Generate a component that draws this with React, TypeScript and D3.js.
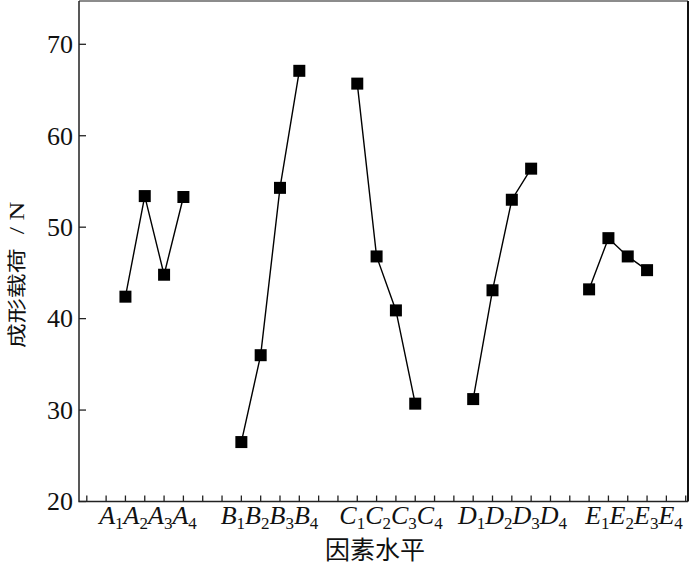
import { useEffect, useRef } from "react";
import * as d3 from "d3";

// factor levels and mean forming load (N)
const factors = ["A", "B", "C", "D", "E"];
const levels = [1, 2, 3, 4];
const loadA = [42.4, 53.4, 44.8, 53.3];
const loadB = [26.5, 36.0, 54.3, 67.1];
const loadC = [65.7, 46.8, 40.9, 30.7];
const loadD = [31.2, 43.1, 53.0, 56.4];
const loadE = [43.2, 48.8, 46.8, 45.3];
const yTicks = [20, 30, 40, 50, 60, 70];

const series = [loadA, loadB, loadC, loadD, loadE];

const W = 700;
const H = 566;
const serif = '"Liberation Serif", "Times New Roman", serif';
const cjk = '"Noto Sans CJK SC", "Noto Sans", sans-serif';

export default function App() {
  const svgRef = useRef<SVGSVGElement>(null);

  useEffect(() => {
    if (!svgRef.current) return;
    const svg = d3.select(svgRef.current);
    svg.selectAll("*").remove();

    const left = 79;
    const right = 688;
    const top = 1;
    const bottom = 501.5;

    // each factor takes 4 slots followed by a 2-slot gap; slot 0 is the first tick
    const x = d3.scaleLinear().domain([0, 31]).range([86.8, 685.7]);
    const y = d3.scaleLinear().domain([20, 70]).range([bottom, 44.3]);
    const slot = (fi: number, li: number) => fi * 6 + 2 + li;
    // group captions are spread a bit wider than the groups themselves
    const labelX = d3.scaleLinear().domain([0, factors.length - 1]).range([148, 634]);

    // frame
    svg
      .append("path")
      .attr("d", `M${left},${top}H${right}`)
      .attr("stroke", "#666")
      .attr("stroke-width", 1.5);
    svg
      .append("path")
      .attr("d", `M${right},${top}V${bottom}`)
      .attr("stroke", "#111")
      .attr("stroke-width", 2);
    svg
      .append("path")
      .attr("d", `M${left},${top}V${bottom}H${right}`)
      .attr("fill", "none")
      .attr("stroke", "#222")
      .attr("stroke-width", 1.5);

    // inward ticks
    svg
      .append("g")
      .attr("stroke", "#222")
      .attr("stroke-width", 1.3)
      .selectAll("line")
      .data(d3.range(0, 32))
      .join("line")
      .attr("x1", (d) => x(d))
      .attr("x2", (d) => x(d))
      .attr("y1", bottom)
      .attr("y2", bottom - 6);

    svg
      .append("g")
      .attr("stroke", "#222")
      .attr("stroke-width", 1.3)
      .selectAll("line")
      .data(yTicks)
      .join("line")
      .attr("x1", left)
      .attr("x2", left + 7)
      .attr("y1", (d) => y(d))
      .attr("y2", (d) => y(d));

    svg
      .append("g")
      .selectAll("text")
      .data(yTicks)
      .join("text")
      .attr("x", left - 6)
      .attr("y", (d) => y(d))
      .attr("dy", "0.34em")
      .attr("text-anchor", "end")
      .attr("font-family", serif)
      .attr("font-size", 26)
      .attr("fill", "#111")
      .text((d) => d);

    // group labels like A1A2A3A4
    factors.forEach((f, fi) => {
      const t = svg
        .append("text")
        .attr("x", labelX(fi))
        .attr("y", 524)
        .attr("text-anchor", "middle")
        .attr("font-family", serif)
        .attr("fill", "#111");
      levels.forEach((l, li) => {
        t.append("tspan")
          .attr("font-style", "italic")
          .attr("font-size", 26)
          .attr("dy", li === 0 ? 0 : -5)
          .text(f);
        t.append("tspan").attr("font-size", 17).attr("dy", 5).text(l);
      });
    });

    // lines + square markers
    series.forEach((vals, fi) => {
      const line = d3
        .line<number>()
        .x((_, i) => x(slot(fi, i)))
        .y((d) => y(d));

      svg
        .append("path")
        .datum(vals)
        .attr("fill", "none")
        .attr("stroke", "#000")
        .attr("stroke-width", 1.4)
        .attr("d", line);

      svg
        .append("g")
        .selectAll("rect")
        .data(vals)
        .join("rect")
        .attr("x", (_, i) => x(slot(fi, i)) - 6)
        .attr("y", (d) => y(d) - 6)
        .attr("width", 12)
        .attr("height", 12)
        .attr("fill", "#000");
    });

    // axis titles
    svg
      .append("text")
      .attr("x", 375)
      .attr("y", 559)
      .attr("text-anchor", "middle")
      .attr("font-family", cjk)
      .attr("font-size", 25)
      .attr("fill", "#111")
      .text("因素水平");

    // the rotated title is a little squeezed across, as in the source
    const yl = svg
      .append("text")
      .attr("transform", "translate(24,275) rotate(-90) scale(1,0.78)")
      .attr("text-anchor", "middle")
      .attr("fill", "#111");
    yl.append("tspan").attr("font-family", cjk).attr("font-size", 25).text("成形载荷");
    yl.append("tspan").attr("font-family", serif).attr("font-size", 26).attr("dx", 14).text("/ N");
  }, []);

  return (
    <svg
      ref={svgRef}
      width={W}
      height={H}
      viewBox={`0 0 ${W} ${H}`}
      style={{ position: "absolute", left: 0, top: 0, background: "#fff" }}
    />
  );
}
